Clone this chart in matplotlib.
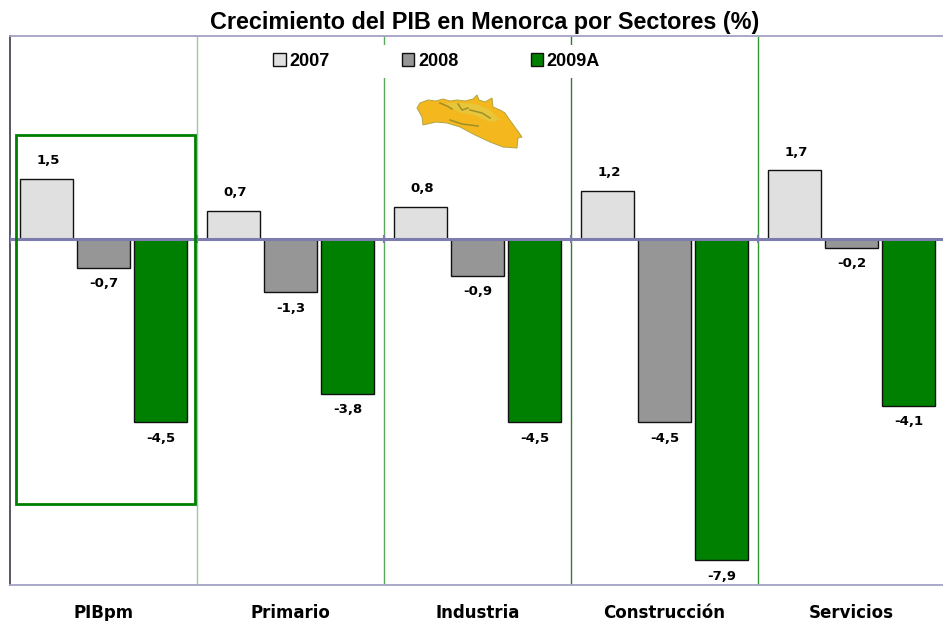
import numpy as np
import matplotlib
matplotlib.use('Agg')
import matplotlib.pyplot as plt
from matplotlib.patches import Polygon, Rectangle

# Data
sectors = ['PIBpm', 'Primario', 'Industria', 'Construcción', 'Servicios']
v2007 = [1.5, 0.7, 0.8, 1.2, 1.7]
v2008 = [-0.7, -1.3, -0.9, -4.5, -0.2]
v2009 = [-4.5, -3.8, -4.5, -7.9, -4.1]
series_names = ['2007', '2008', '2009A']

W, H = 943, 621
fig = plt.figure(figsize=(W / 100, H / 100), dpi=100)
ax = fig.add_axes([10 / W, 1 - 585 / H, 935 / W, 549 / H])
ax.set_xlim(0, 5)
ax.set_ylim(-8.51, 5.01)

x = np.arange(len(sectors)) + 0.5
width = 0.283
pitch = 0.306
colors = ['#e0e0e0', '#969696', '#008000']


def to_fig(points):
    # pixel coords of the picture -> figure fraction
    pts = np.array(points, dtype=float) / [W, H]
    pts[:, 1] = 1 - pts[:, 1]
    return pts


for i, vals in enumerate([v2007, v2008, v2009]):
    ax.bar(x + (i - 1) * pitch, vals, width, color=colors[i], edgecolor='#111111',
           linewidth=1.0, label=series_names[i], zorder=3)
    # value labels, comma decimal
    for xx, v in zip(x + (i - 1) * pitch, vals):
        off = 13 if v > 0 else -11.5
        ax.annotate(f'{v:.1f}'.replace('.', ','), (xx + (0.012 if i == 0 else 0), v), xytext=(0, off),
                    textcoords='offset points', ha='center', va='center',
                    fontsize=9.5, fontweight='bold', color='black', family='DejaVu Sans', zorder=6)

# separators between sectors
sep_colors = ['#9ccb9c', '#5aa85a', '#2e7d2e', '#2e9a2e']
for i, c in enumerate(sep_colors):
    ax.axvline(i + 1, color=c, linewidth=1, zorder=1)

# zero line + small ticks
ax.axhline(0, color='#7c7cae', linewidth=2.2, zorder=4)
ax.plot(np.arange(0, 6), np.zeros(6), linestyle='none', marker='|', markersize=6,
        markeredgewidth=1.5, color='#7c7cae', zorder=4)

# highlight box around PIBpm
ax.add_patch(Rectangle((0.03, -6.51), 0.957, 9.08, fill=False, edgecolor='#008000',
                       linewidth=2, zorder=5))

# Menorca island, rough outline in pixel coords
island = [(417, 108), (420, 103), (428, 100), (436, 101), (443, 99), (450, 101), (457, 100),
          (465, 101), (473, 99), (477, 95), (479, 100), (485, 102), (492, 98), (493, 107),
          (500, 110), (505, 113), (509, 119), (512, 123), (517, 130), (522, 137), (518, 138),
          (517, 148), (503, 147), (490, 142), (475, 135), (460, 127), (447, 123), (436, 122),
          (423, 125), (422, 117)]
fig.add_artist(Polygon(to_fig(island), closed=True, facecolor='#f4b81e', edgecolor='#b3a543',
                       linewidth=0.7, transform=fig.transFigure, zorder=5))
fig.add_artist(Polygon(to_fig([(445, 103), (462, 103), (476, 104), (490, 110), (500, 120),
                               (490, 122), (474, 115), (458, 112)]), closed=True,
                       facecolor='#e8c63a', edgecolor='none', transform=fig.transFigure, zorder=5))
for seg in [[(440, 103), (447, 106), (452, 109)], [(458, 104), (462, 110), (468, 108)],
            [(470, 110), (482, 113), (490, 118)], [(450, 120), (462, 124), (478, 126)]]:
    pts = to_fig(seg)
    fig.add_artist(plt.Line2D(pts[:, 0], pts[:, 1], color='#9c8f2c', linewidth=1.1,
                              transform=fig.transFigure, zorder=6))

ax.set_xticks(x)
ax.set_xticklabels(sectors, fontsize=12, fontweight='bold', family='DejaVu Sans')
ax.tick_params(axis='x', length=0, pad=14)
ax.set_yticks([])

ax.spines['left'].set_color('#3a3a4a')
ax.spines['left'].set_linewidth(1.2)
for s in ['top', 'bottom']:
    ax.spines[s].set_color('#a3a3c4')
    ax.spines[s].set_linewidth(1.3)
ax.spines['right'].set_visible(False)

leg = ax.legend(ncol=3, loc='upper left', bbox_to_anchor=(255 / 935, 1 - 9 / 549),
                frameon=True, framealpha=1, facecolor='white', edgecolor='none', fancybox=False,
                prop={'family': 'Liberation Sans', 'weight': 'bold', 'size': 13},
                handlelength=0.7, handleheight=0.7, handletextpad=0.2, columnspacing=4.0,
                borderpad=0.45, borderaxespad=0)
leg.set_zorder(2)

fig.text(485 / W, 1 - 22 / H, 'Crecimiento del PIB en Menorca por Sectores (%)', ha='center', va='center',
         fontsize=16.8, fontweight='bold', family='Liberation Sans')

fig.savefig('out.png', dpi=100)
